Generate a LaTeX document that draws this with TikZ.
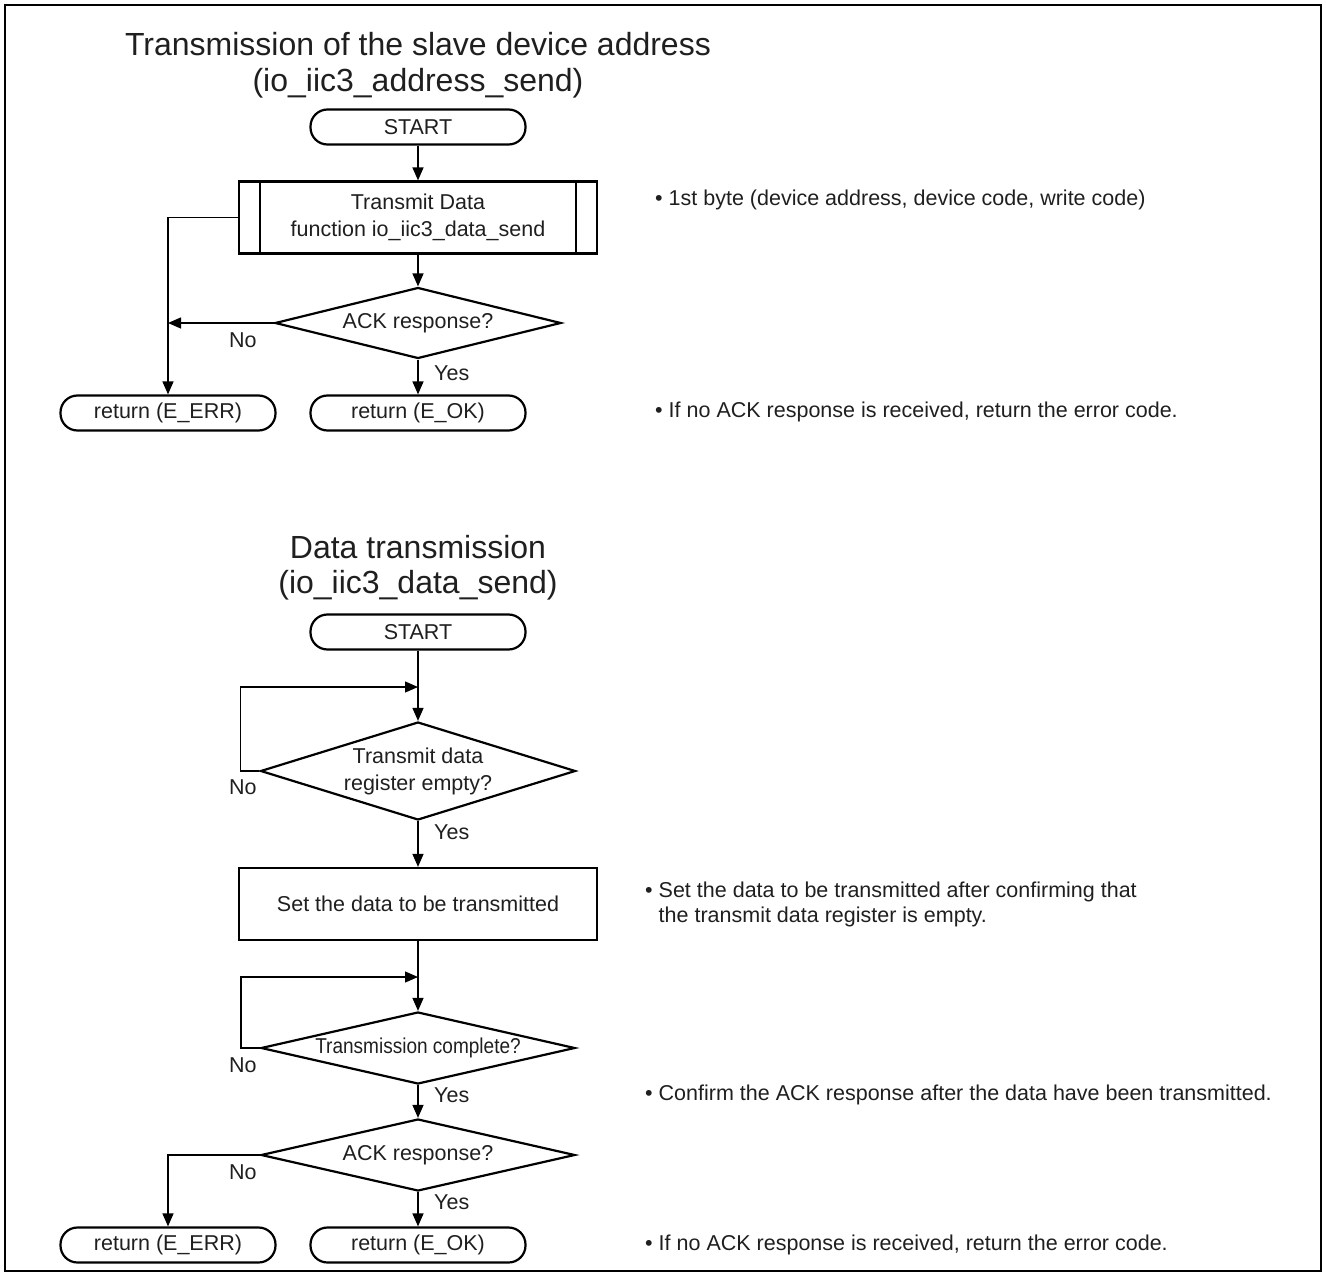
\documentclass[tikz,border=0pt]{standalone}
\usepackage{fontspec}
\setmainfont{Liberation Sans}
\usetikzlibrary{arrows.meta,shapes.geometric}

\begin{document}
\begin{tikzpicture}[x=1pt,y=-1pt,
  every node/.style={font=\fontsize{21.5}{25}\selectfont, inner sep=0pt, text=black!88},
  ttl/.style={font=\fontsize{32}{38}\selectfont},
  term/.style={draw, line width=2.2pt, rounded corners=17pt,
               minimum width=215pt, minimum height=35pt},
  proc/.style={draw, line width=2.2pt, minimum width=358pt,
               minimum height=72pt, align=center},
  dec/.style={draw, line width=2.2pt, diamond, align=center},
  note/.style={anchor=west, align=left, font=\fontsize{21.5}{25}\selectfont},
  lbl/.style={anchor=west},
  arr/.style={line width=1.3pt, -{Triangle[length=13pt,width=11pt]}},
  ln/.style={line width=1.3pt}
]
\useasboundingbox (0,0) rectangle (1326,1276);
\draw[line width=2pt] (5,5) rectangle (1321,1271);

% ---------- slave device address ----------
\node[ttl] (t1a) at (418,44) {Transmission of the slave device address};
\node[ttl] (t1b) at (418,83) {(io\_iic3\_address\_send)};

\node[term] (s1) at (418,127) {START};
\node[proc] (p1) at (418,217.5) {Transmit Data\\[2pt]function io\_iic3\_data\_send};
\draw[line width=2.2pt] ([xshift=22pt]p1.north west) -- ([xshift=22pt]p1.south west);
\draw[line width=2.2pt] ([xshift=-22pt]p1.north east) -- ([xshift=-22pt]p1.south east);
\node[dec, minimum width=286pt, minimum height=71pt, aspect=4] (d1) at (418,323) {ACK response?};
\node[term] (e1) at (168,413) {return (E\_ERR)};
\node[term] (ok1) at (418,413) {return (E\_OK)};

\draw[arr] (s1) -- (p1);
\draw[arr] (p1) -- (d1);
\draw[arr] (p1.west) -| (e1.north);
\draw[arr] (d1.west) -- (d1.west -| e1.north);
\draw[arr] (d1) -- (ok1);
\node[lbl] (n1) at (229,340) {No};
\node[lbl] (y1) at (434,373) {Yes};

\node[note] (c1) at (655,200) {• 1st byte (device address, device code, write code)};
\node[note] (c2) at (655,412) {• If no ACK response is received, return the error code.};

% ---------- data transmission ----------
\node[ttl] (t2a) at (418,547) {Data transmission};
\node[ttl] (t2b) at (418,585) {(io\_iic3\_data\_send)};

\node[term] (s2) at (418,632) {START};
\coordinate (j1) at (418,687);
\node[dec, minimum width=315pt, minimum height=98pt, aspect=3.2] (d2) at (418,771)
  {Transmit data\\[2pt]register empty?};
\node[proc] (b2) at (418,904) {Set the data to be transmitted};
\coordinate (j2) at (418,977);
\node[dec, minimum width=314pt, minimum height=72pt, aspect=4.4] (d3) at (418,1048)
  {\scalebox{0.885}[1]{Transmission complete?}};
\node[dec, minimum width=314pt, minimum height=72pt, aspect=4.4] (d4) at (418,1155)
  {ACK response?};
\node[term] (e2) at (168,1245) {return (E\_ERR)};
\node[term] (ok2) at (418,1245) {return (E\_OK)};

\draw[arr] (s2) -- (d2);
\draw[arr] (d2.west) -- ++(-19,0) |- (j1);
\draw[arr] (d2) -- (b2);
\draw[arr] (b2) -- (d3);
\draw[arr] (d3.west) -- ++(-19,0) |- (j2);
\draw[arr] (d3) -- (d4);
\draw[arr] (d4.west) -| (e2.north);
\draw[arr] (d4) -- (ok2);

\node[lbl] (n2) at (229,787) {No};
\node[lbl] (y2) at (434,832) {Yes};
\node[lbl] (n3) at (229,1065) {No};
\node[lbl] (y3) at (434,1095) {Yes};
\node[lbl] (n4) at (229,1172) {No};
\node[lbl] (y4) at (434,1202) {Yes};

\node[note] (c3) at (645,904)
  {• Set the data to be transmitted after confirming that\\[0pt]
   \hphantom{• }the transmit data register is empty.};
\node[note] (c4) at (645,1095) {• Confirm the ACK response after the data have been transmitted.};
\node[note] (c5) at (645,1245) {• If no ACK response is received, return the error code.};
\end{tikzpicture}
\end{document}
